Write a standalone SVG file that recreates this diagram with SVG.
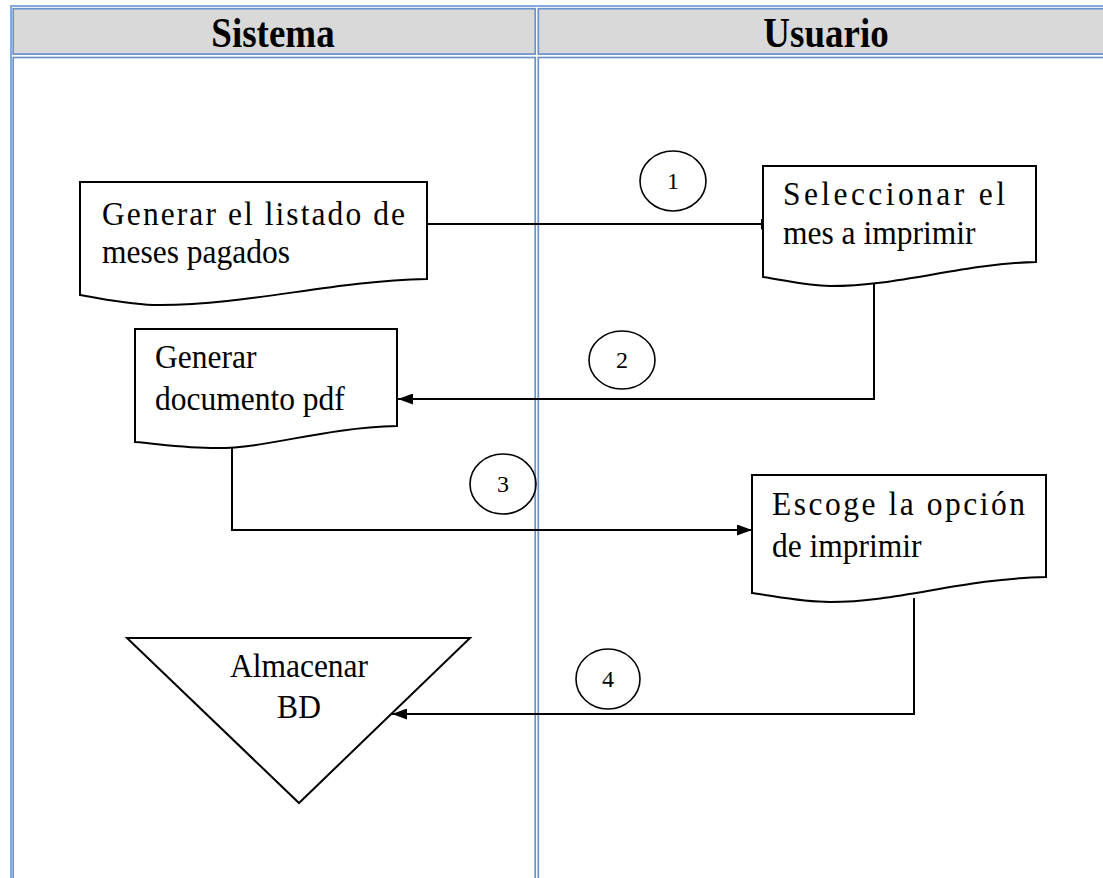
<svg xmlns="http://www.w3.org/2000/svg" width="1103" height="878" viewBox="0 0 1103 878">
<style>
.cell{fill:#ffffff;stroke:#6a93cc;stroke-width:1.7}
.head{fill:#d9d9d9;stroke:#6a93cc;stroke-width:1.7}
.outer{fill:none;stroke:#86a9dc;stroke-width:2}
.ht{font-family:"Liberation Serif","Times New Roman",serif;font-weight:bold;font-size:37px;fill:#000;text-anchor:middle}
.t{font-family:"Liberation Serif","Times New Roman",serif;font-size:31.5px;fill:#000}
.c{text-anchor:middle}
.n{font-family:"Liberation Serif","Times New Roman",serif;font-size:24px;fill:#000;text-anchor:middle}
.shape{fill:#ffffff;stroke:#000;stroke-width:2}
.conn{fill:none;stroke:#000;stroke-width:2}
.circ{fill:none;stroke:#000;stroke-width:1.6}
</style>
<defs>
<marker id="arr" markerUnits="userSpaceOnUse" markerWidth="15" markerHeight="11" refX="15" refY="5.5" orient="auto">
<path d="M0,0 L15,5.5 L0,11 z" fill="#000"/>
</marker>
</defs>
<rect width="1103" height="878" fill="#ffffff"/>
<g id="table">
<rect class="outer" x="11" y="6" width="1100" height="880"/>
<rect class="head" x="13.2" y="8.7" width="522" height="45.4"/>
<rect class="head" x="538.3" y="8.7" width="600" height="45.4"/>
<rect class="cell" x="13.2" y="57.5" width="522" height="900"/>
<rect class="cell" x="538.3" y="57.5" width="600" height="900"/>
<text class="ht" transform="translate(273,47) scale(1,1.12)">Sistema</text>
<text class="ht" transform="translate(826,47) scale(1,1.12)">Usuario</text>
</g>
<g id="connectors">
<path class="conn" d="M427,224 H776" marker-end="url(#arr)"/>
<path class="conn" d="M874,284 V399 H398" marker-end="url(#arr)"/>
<path class="conn" d="M232,447 V530 H752" marker-end="url(#arr)"/>
<path class="conn" d="M914,598 V714 H392" marker-end="url(#arr)"/>
</g>
<g id="node-generar-listado">
<path class="shape" d="M80,182 H427 V279 C330,281 250,305 160,305 C130,305 105,299 80,295 Z"/>
<text class="t" transform="translate(102,225) scale(1,1.1)" textLength="303" lengthAdjust="spacing">Generar el listado de</text>
<text class="t" transform="translate(102,263) scale(1,1.1)">meses pagados</text>
</g>
<g id="node-seleccionar">
<path class="shape" d="M763,166 H1036 V262 C960,264 900,286 830,286 C805,286 785,280 763,277 Z"/>
<text class="t" transform="translate(783,205) scale(1,1.1)" textLength="222" lengthAdjust="spacing">Seleccionar el</text>
<text class="t" transform="translate(783,244) scale(1,1.1)">mes a imprimir</text>
</g>
<g id="node-generar-pdf">
<path class="shape" d="M135,329 H397 V426 C320,428 270,448 217,448 C185,448 160,444 135,442 Z"/>
<text class="t" transform="translate(155,368) scale(1,1.1)">Generar</text>
<text class="t" transform="translate(155,410) scale(1,1.1)">documento pdf</text>
</g>
<g id="node-escoge">
<path class="shape" d="M752,475 H1046 V577 C960,579 900,602 830,602 C800,602 775,596 752,593 Z"/>
<text class="t" transform="translate(772,515) scale(1,1.1)" textLength="253" lengthAdjust="spacing">Escoge la opción</text>
<text class="t" transform="translate(772,557) scale(1,1.1)">de imprimir</text>
</g>
<g id="node-almacenar">
<path class="shape" d="M127,638 H470 L299,803 Z"/>
<text class="t c" transform="translate(299,677) scale(1,1.1)">Almacenar</text>
<text class="t c" transform="translate(299,718) scale(1,1.1)">BD</text>
</g>
<g id="step-1"><ellipse class="circ" cx="673" cy="181" rx="33" ry="30"/><text class="n" x="673" y="189">1</text></g>
<g id="step-2"><ellipse class="circ" cx="622" cy="360" rx="33" ry="29"/><text class="n" x="622" y="368">2</text></g>
<g id="step-3"><ellipse class="circ" cx="503" cy="484" rx="33" ry="30"/><text class="n" x="503" y="492">3</text></g>
<g id="step-4"><ellipse class="circ" cx="608" cy="679" rx="32" ry="30"/><text class="n" x="608" y="687">4</text></g>
</svg>
